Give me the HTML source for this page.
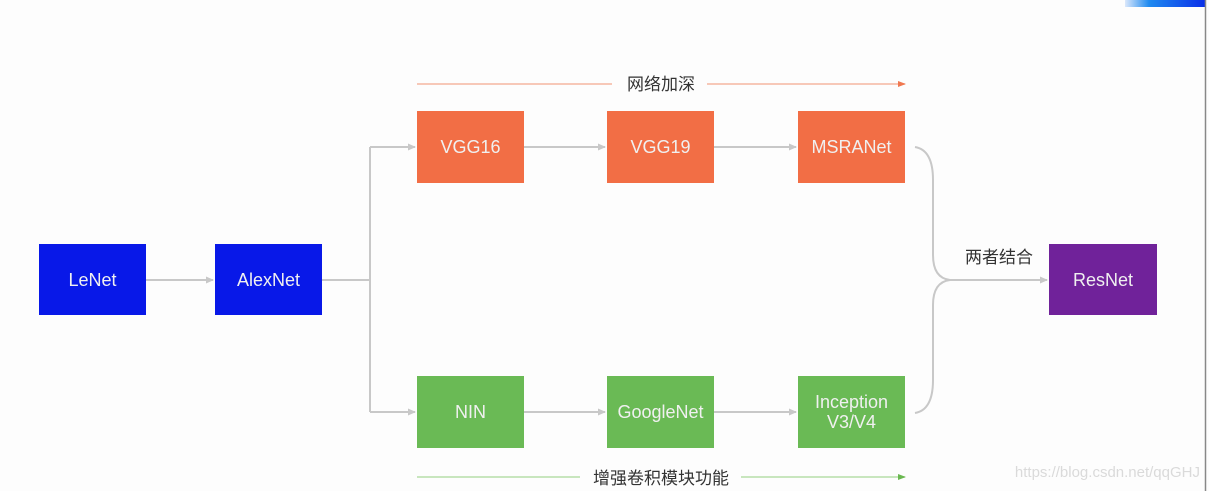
<!DOCTYPE html>
<html><head><meta charset="utf-8"><style>
html,body{margin:0;padding:0;background:#fdfdfd;width:1209px;height:491px;overflow:hidden}
svg{display:block}
text{font-family:"Liberation Sans","Noto Sans CJK SC",sans-serif}
</style></head><body>
<svg width="1209" height="491" viewBox="0 0 1209 491" xmlns="http://www.w3.org/2000/svg">
<defs>
<linearGradient id="g" x1="0" x2="1"><stop offset="0" stop-color="#dbe8fb"/><stop offset="0.3" stop-color="#1e8af0"/><stop offset="1" stop-color="#0a2fe8"/></linearGradient>
<marker id="a" markerWidth="8" markerHeight="8" refX="7" refY="4" orient="auto" markerUnits="userSpaceOnUse"><path d="M0,0.5 L8,4 L0,7.5z" fill="#c8c8c8"/></marker>
<marker id="ao" markerWidth="8" markerHeight="8" refX="7" refY="4" orient="auto" markerUnits="userSpaceOnUse"><path d="M0,1 L8,4 L0,7z" fill="#f07850"/></marker>
<marker id="ag" markerWidth="8" markerHeight="8" refX="7" refY="4" orient="auto" markerUnits="userSpaceOnUse"><path d="M0,1 L8,4 L0,7z" fill="#6ab850"/></marker>
</defs>
<rect x="1125" y="0" width="80" height="7" fill="url(#g)"/>
<line x1="1205.5" y1="0" x2="1205.5" y2="491" stroke="#888" stroke-width="1.5"/>
<g stroke="#c8c8c8" stroke-width="2" fill="none">
<line x1="146" y1="280" x2="213" y2="280" marker-end="url(#a)"/>
<polyline points="322,280 370,280"/>
<polyline points="370,147 370,412"/>
<line x1="370" y1="147" x2="415" y2="147" marker-end="url(#a)"/>
<line x1="370" y1="412" x2="415" y2="412" marker-end="url(#a)"/>
<line x1="524" y1="147" x2="605" y2="147" marker-end="url(#a)"/>
<line x1="714" y1="147" x2="796" y2="147" marker-end="url(#a)"/>
<line x1="524" y1="412" x2="605" y2="412" marker-end="url(#a)"/>
<line x1="714" y1="412" x2="796" y2="412" marker-end="url(#a)"/>
<path d="M915,147 Q933,150 933,180 L933,255 Q933,278 950,280"/>
<path d="M915,413 Q933,410 933,380 L933,305 Q933,282 950,280"/>
<line x1="950" y1="280" x2="1047" y2="280" marker-end="url(#a)"/>
</g>
<line x1="417" y1="84" x2="612" y2="84" stroke="#f4a88e" stroke-width="1.2"/>
<line x1="707" y1="84" x2="905" y2="84" stroke="#f4a88e" stroke-width="1.2" marker-end="url(#ao)"/>
<text x="661" y="90" font-size="17" fill="#333" text-anchor="middle">网络加深</text>
<line x1="417" y1="477" x2="580" y2="477" stroke="#a8d898" stroke-width="1.2"/>
<line x1="741" y1="477" x2="905" y2="477" stroke="#a8d898" stroke-width="1.2" marker-end="url(#ag)"/>
<text x="661" y="484" font-size="17" fill="#333" text-anchor="middle">增强卷积模块功能</text>
<text x="999" y="263" font-size="17" fill="#333" text-anchor="middle">两者结合</text>
<g font-size="18" fill="#f0f0f0" text-anchor="middle">
<rect x="39" y="244" width="107" height="71" fill="#0818e8"/><text x="92.5" y="286">LeNet</text>
<rect x="215" y="244" width="107" height="71" fill="#0818e8"/><text x="268.5" y="286">AlexNet</text>
<rect x="417" y="111" width="107" height="72" fill="#f26e45"/><text x="470.5" y="153">VGG16</text>
<rect x="607" y="111" width="107" height="72" fill="#f26e45"/><text x="660.5" y="153">VGG19</text>
<rect x="798" y="111" width="107" height="72" fill="#f26e45"/><text x="851.5" y="153">MSRANet</text>
<rect x="417" y="376" width="107" height="72" fill="#6aba55"/><text x="470.5" y="418">NIN</text>
<rect x="607" y="376" width="107" height="72" fill="#6aba55"/><text x="660.5" y="418">GoogleNet</text>
<rect x="798" y="376" width="107" height="72" fill="#6aba55"/><text x="851.5" y="408">Inception</text><text x="851.5" y="428">V3/V4</text>
<rect x="1049" y="244" width="108" height="71" fill="#70229a"/><text x="1103" y="286">ResNet</text>
</g>
<text x="1200" y="477" font-size="15" fill="#dadada" text-anchor="end">https://blog.csdn.net/qqGHJ</text>
</svg>
</body></html>
